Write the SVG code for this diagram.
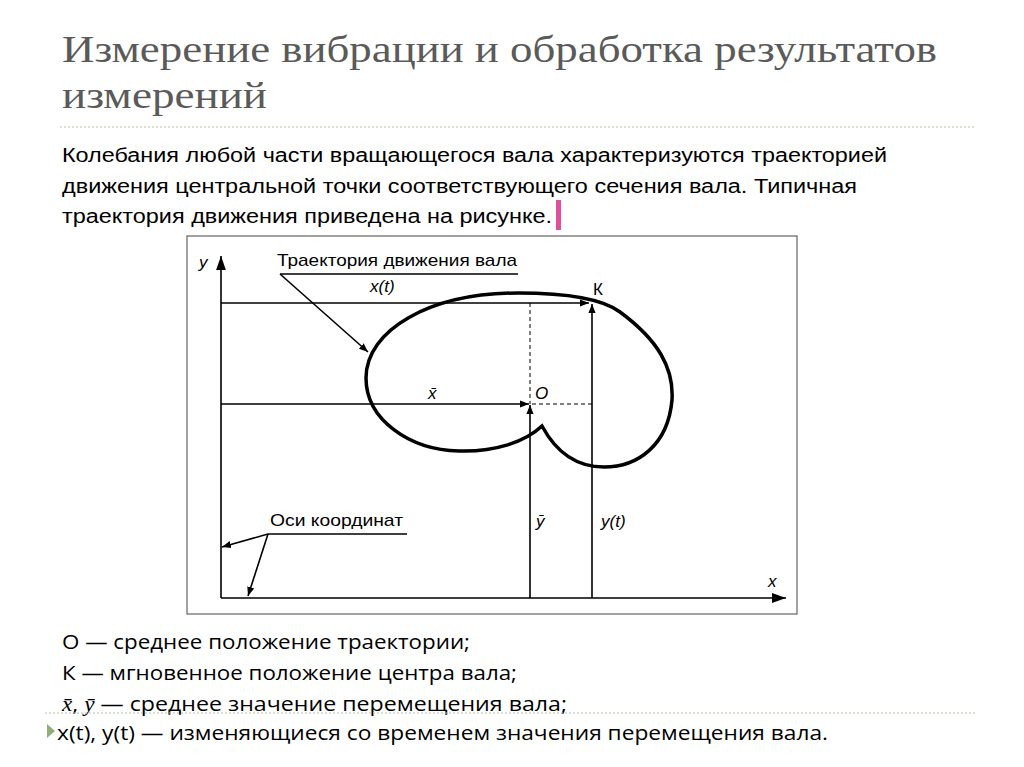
<svg xmlns="http://www.w3.org/2000/svg" width="1024" height="767" viewBox="0 0 1024 767">
<defs>
<marker id="ar" viewBox="0 0 10 10" refX="10" refY="5" markerWidth="9" markerHeight="9" markerUnits="userSpaceOnUse" orient="auto"><path d="M0,1 L10,5 L0,9 z" fill="#000"/></marker>
<marker id="arb" viewBox="0 0 10 10" refX="10" refY="5" markerWidth="14" markerHeight="14" markerUnits="userSpaceOnUse" orient="auto"><path d="M0,1.5 L10,5 L0,8.5 z" fill="#000"/></marker>
</defs>
<style>
.t{font-family:"Liberation Serif",serif;font-size:38px;fill:#5a5a5a}
.b{font-family:"Liberation Sans",Arial,sans-serif;font-size:20px;fill:#000}
.c{font-family:"Open Sans","Liberation Sans",sans-serif;font-size:20px;fill:#000}
.f{font-family:"Liberation Sans",Arial,sans-serif;font-size:17px;fill:#000}
.fi{font-family:"Liberation Sans",Arial,sans-serif;font-size:17px;font-style:italic;fill:#000}
.l{stroke:#000;stroke-width:1.6;fill:none}
.dot{stroke:#b5c7a8;stroke-width:1.2;stroke-dasharray:2 2}
</style>
<rect width="1024" height="767" fill="#fff"/>
<text class="t" x="62" y="62" textLength="875" lengthAdjust="spacingAndGlyphs">Измерение вибрации и обработка результатов</text>
<text class="t" x="62" y="108" textLength="205" lengthAdjust="spacingAndGlyphs">измерений</text>
<line class="dot" x1="60" y1="127" x2="975" y2="127"/>
<text class="b" x="62" y="162" textLength="825" lengthAdjust="spacingAndGlyphs">Колебания любой части вращающегося вала характеризуются траекторией</text>
<text class="b" x="62" y="193" textLength="795" lengthAdjust="spacingAndGlyphs">движения центральной точки соответствующего сечения вала. Типичная</text>
<text class="b" x="62" y="223" textLength="490" lengthAdjust="spacingAndGlyphs">траектория движения приведена на рисунке.</text>
<rect x="556" y="200" width="5" height="30" fill="#e0509a"/>
<g id="figure">
<rect x="187" y="236" width="610" height="378" fill="#fff" stroke="#444" stroke-width="1"/>
<g id="connectors">
<line class="l" x1="221" y1="598" x2="221" y2="256" marker-end="url(#arb)" stroke-width="2.2"/>
<line class="l" x1="221" y1="598" x2="786" y2="598" marker-end="url(#arb)" stroke-width="2.2"/>
<line class="l" x1="221" y1="303" x2="589" y2="303" marker-end="url(#ar)"/>
<line class="l" x1="221" y1="404" x2="529" y2="404" marker-end="url(#ar)"/>
<line class="l" x1="530" y1="598" x2="530" y2="405" marker-end="url(#ar)"/>
<line class="l" x1="592" y1="598" x2="592" y2="304" marker-end="url(#ar)"/>
<line x1="530" y1="303" x2="530" y2="404" stroke="#000" stroke-width="1" stroke-dasharray="4 3"/>
<line x1="532" y1="404" x2="592" y2="404" stroke="#000" stroke-width="1" stroke-dasharray="4 3"/>
<line class="l" x1="280" y1="274" x2="518" y2="274" stroke-width="1.2"/>
<line class="l" x1="280" y1="274" x2="368" y2="352" marker-end="url(#ar)" stroke-width="1.2"/>
<line class="l" x1="268" y1="534" x2="407" y2="534" stroke-width="1.2"/>
<line class="l" x1="268" y1="534" x2="222" y2="547" marker-end="url(#ar)" stroke-width="1.2"/>
<line class="l" x1="268" y1="534" x2="248" y2="596" marker-end="url(#ar)" stroke-width="1.2"/>
</g>
<g id="trajectory">
<path d="M542,426 C525,442 495,452 459,451 C410,450 366,420 366,378 C366,330 430,293 518,293 C560,293 600,297 620,312 C658,340 674,368 672,400 C668,445 638,467 604,467 C576,467 556,452 542,426 Z" fill="none" stroke="#000" stroke-width="3.5" stroke-linejoin="miter"/>
</g>
<text class="f" x="277" y="266" textLength="240" lengthAdjust="spacingAndGlyphs">Траектория движения вала</text>
<text class="fi" x="370" y="292">x(t)</text>
<text class="f" x="593" y="295">К</text>
<text class="fi" x="428" y="399">x̄</text>
<text class="fi" x="535" y="399">O</text>
<text class="fi" x="536" y="527">ȳ</text>
<text class="fi" x="601" y="527">y(t)</text>
<text class="fi" x="768" y="587">x</text>
<text class="fi" x="199" y="268">y</text>
<text class="f" x="270" y="526" textLength="133" lengthAdjust="spacingAndGlyphs">Оси координат</text>
</g>
<text class="c" x="62" y="649" textLength="408" lengthAdjust="spacingAndGlyphs">О — среднее положение траектории;</text>
<text class="c" x="62" y="680" textLength="455" lengthAdjust="spacingAndGlyphs">К — мгновенное положение центра вала;</text>
<text class="c" x="62" y="711" textLength="505" lengthAdjust="spacingAndGlyphs"><tspan font-family="Liberation Serif,serif" font-style="italic">x̄</tspan>, <tspan font-family="Liberation Serif,serif" font-style="italic">ȳ</tspan> — среднее значение перемещения вала;</text>
<line class="dot" x1="45" y1="713" x2="975" y2="713"/>
<path d="M47,724 L55,731 L47,738 z" fill="#8fae7a"/>
<text class="c" x="57" y="740" textLength="771" lengthAdjust="spacingAndGlyphs">x(t), y(t) — изменяющиеся со временем значения перемещения вала.</text>
</svg>
